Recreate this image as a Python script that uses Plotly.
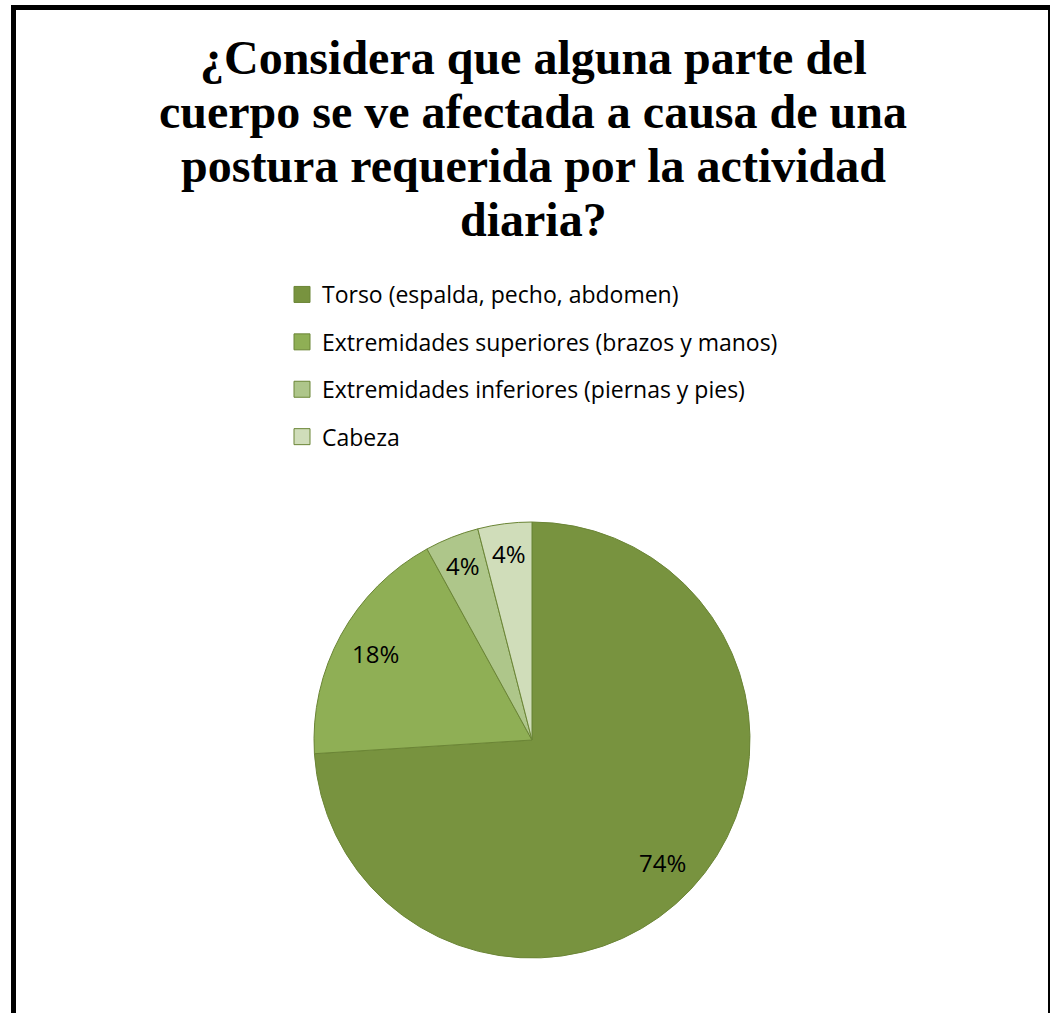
import math
import plotly.graph_objects as go

title_lines = [
    "¿Considera que alguna parte del",
    "cuerpo se ve afectada a causa de una",
    "postura requerida por la actividad",
    "diaria?",
]
categories = [
    "Torso (espalda, pecho, abdomen)",
    "Extremidades superiores (brazos y manos)",
    "Extremidades inferiores (piernas y pies)",
    "Cabeza",
]
values = [74, 18, 4, 4]
colors = ["#78933F", "#8FAF55", "#AEC68A", "#D0DDBA"]
line_color = "#6B8536"

W, H = 1050, 1013
cx, cy, R = 532, 740, 218  # pie centre / radius in pixels

fig = go.Figure()

fig.add_trace(go.Pie(
    labels=categories,
    values=values,
    sort=False,
    direction="clockwise",
    rotation=0,
    marker=dict(colors=colors, line=dict(color=line_color, width=1)),
    textinfo="none",
    hoverinfo="label+percent",
    showlegend=False,
    domain=dict(x=[(cx - R) / W, (cx + R) / W],
                y=[(H - cy - R) / H, (H - cy + R) / H]),
))

# legend entries (one group each so they can be spaced)
for i, (cat, col) in enumerate(zip(categories, colors)):
    fig.add_trace(go.Scatter(
        x=[None], y=[None], mode="markers", name=cat,
        legendgroup=f"g{i}",
        marker=dict(symbol="square", size=16, color=col,
                    line=dict(color=line_color, width=1)),
        hoverinfo="skip",
    ))

annotations = []

# title, one annotation per line to control line spacing
title_top, title_step = 57, 54.3
for i, line in enumerate(title_lines):
    annotations.append(dict(
        x=533 / W, y=1 - (title_top + i * title_step) / H,
        xref="paper", yref="paper", xanchor="center", yanchor="middle",
        text=f"<b>{line}</b>", showarrow=False,
        font=dict(family="Liberation Serif", size=48, color="#000000"),
    ))

# percentage labels placed along each slice's mid-angle
total = sum(values)
cum = 0
for v in values:
    frac = v / total
    mid = (cum + frac / 2) * 2 * math.pi
    cum += frac
    rf = 0.82 if frac > 0.1 else 0.86
    px = cx + rf * R * math.sin(mid)
    py = cy - rf * R * math.cos(mid)
    annotations.append(dict(
        x=px / W, y=1 - py / H, xref="paper", yref="paper",
        text=f"{round(frac * 100)}%", showarrow=False,
        font=dict(family="Open Sans", size=24, color="#000000"),
        xanchor="center", yanchor="middle",
    ))

fig.update_layout(
    width=W, height=H,
    margin=dict(l=0, r=0, t=0, b=0),
    paper_bgcolor="white", plot_bgcolor="white",
    xaxis=dict(visible=False),
    yaxis=dict(visible=False),
    showlegend=True,
    legend=dict(
        x=282 / W, xanchor="left",
        y=1 - 273 / H, yanchor="top",
        font=dict(family="Open Sans", size=23, color="#000000"),
        tracegroupgap=14.5,
        bgcolor="rgba(0,0,0,0)",
        itemclick=False, itemdoubleclick=False,
    ),
    annotations=annotations,
    shapes=[dict(
        type="rect", xref="paper", yref="paper",
        x0=13.5 / W, x1=1050.5 / W, y0=-0.05, y1=1 - 7.5 / H,
        line=dict(color="#000000", width=5), fillcolor="rgba(0,0,0,0)",
    )],
)

fig.write_html("out.html")
